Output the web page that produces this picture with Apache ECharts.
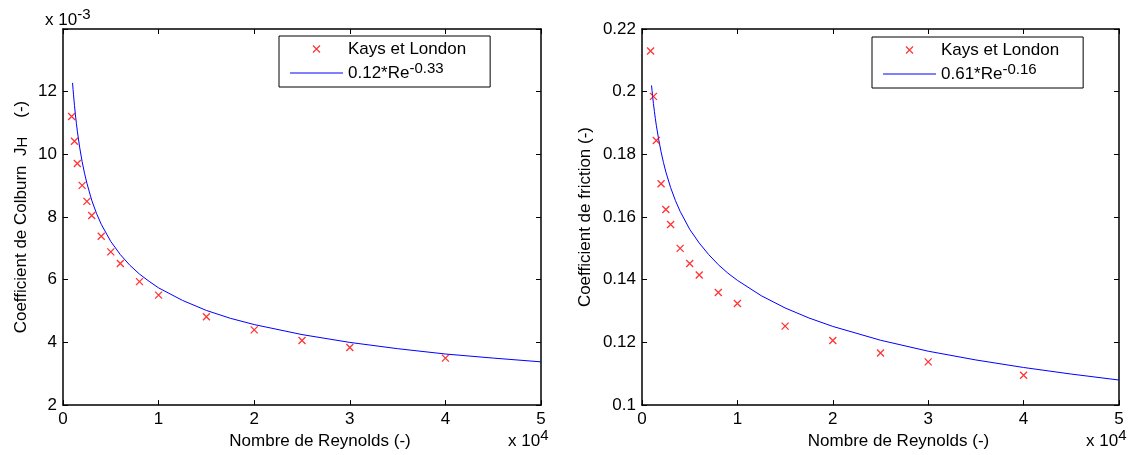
<!DOCTYPE html>
<html>
<head>
<meta charset="utf-8">
<script src="https://cdn.jsdelivr.net/npm/echarts@6/dist/echarts.min.js"></script>
<style>
html,body{margin:0;padding:0;background:#fff;}
#chart{width:1135px;height:455px;}
</style>
</head>
<body>
<div id="chart"></div>
<script>
// ---------- data ----------
// Left plot: Colburn factor (x 10^-3) vs Reynolds number
const reLeft = [900, 1200, 1500, 2000, 2500, 3000, 4000, 5000, 6000, 8000, 10000, 15000, 20000, 25000, 30000, 40000];
const jhLeft = [11.21, 10.42, 9.71, 9.01, 8.50, 8.05, 7.39, 6.89, 6.52, 5.94, 5.51, 4.82, 4.40, 4.06, 3.84, 3.50];
// Right plot: friction coefficient vs Reynolds number
const reRight = [900, 1200, 1500, 2000, 2500, 3000, 4000, 5000, 6000, 8000, 10000, 15000, 20000, 25000, 30000, 40000];
const fRight = [0.2130, 0.1985, 0.1844, 0.1706, 0.1624, 0.1576, 0.1500, 0.1452, 0.1415, 0.1359, 0.1324, 0.1252, 0.1206, 0.1166, 0.1138, 0.1095];
// Fitted curves, values
const curveRe = [1000, 1050, 1100, 1200, 1300, 1400, 1500, 1750, 2000, 2250, 2500, 3000, 3500, 4000, 5000, 6000, 7000, 8000, 9000, 10000, 12500, 15000, 17500, 20000, 25000, 30000, 35000, 40000, 45000, 50000];
const curveLeft = [12.28, 12.08, 11.90, 11.56, 11.26, 10.99, 10.74, 10.21, 9.77, 9.40, 9.08, 8.54, 8.12, 7.77, 7.22, 6.80, 6.46, 6.18, 5.95, 5.74, 5.34, 5.02, 4.77, 4.57, 4.25, 4.00, 3.80, 3.63, 3.50, 3.38];
const curveRight = [0.2020, 0.2004, 0.1989, 0.1962, 0.1937, 0.1914, 0.1893, 0.1847, 0.1808, 0.1774, 0.1744, 0.1694, 0.1653, 0.1618, 0.1561, 0.1517, 0.1480, 0.1448, 0.1421, 0.1398, 0.1349, 0.1310, 0.1278, 0.1251, 0.1207, 0.1172, 0.1144, 0.1120, 0.1099, 0.1080];
// Names and tick settings
const pointsName = 'Kays et London';
const fitLeftName = '0.12*Re^-0.33';
const fitRightName = '0.61*Re^-0.16';
const xTitle = 'Nombre de Reynolds (-)';
const yTitleLeft = 'Coefficient de Colburn  J{sub|H}    (-)';
const yTitleRight = 'Coefficient de friction (-)';
const xTicks = {min: 0, max: 50000, interval: 10000, divisor: 10000};
const yTicksLeft = {min: 2, max: 14, interval: 2, hidden: [14]};
const yTicksRight = {min: 0.1, max: 0.22, interval: 0.02};

// ---------- styling ----------
const FONT = '"Liberation Sans", Arial, Helvetica, sans-serif';
const FS = 17;
const X_SYMBOL = 'path://M0,0L10,10M0,10L10,0';
const LINE_ICON = 'path://M0,0L53,0L53,1L0,1Z';
const AXIS_W = 1.5;
const supRich = {
  sup: {fontFamily: FONT, fontSize: 15, lineHeight: 12, verticalAlign: 'top', color: '#000'},
  supHi: {fontFamily: FONT, fontSize: 15, lineHeight: 8, verticalAlign: 'top', color: '#000'},
  sub: {fontFamily: FONT, fontSize: 15, lineHeight: 12, verticalAlign: 'bottom', color: '#000'}
};
function fmtName(n) { return n.replace(/\^(\S+)/, '{sup|$1}'); }
function zip(a, b) { return a.map((v, i) => [v, b[i]]); }

const grids = [
  {left: 63, top: 29, width: 478, height: 377},
  {left: 642, top: 29, width: 477, height: 377}
];

function xAx(gi, pos) {
  return {
    type: 'value', gridIndex: gi, position: pos,
    min: xTicks.min, max: xTicks.max, interval: xTicks.interval,
    axisLine: {show: true, onZero: false, lineStyle: {color: '#000', width: AXIS_W}},
    axisTick: {show: true, inside: true, length: 5, lineStyle: {color: '#000'}},
    splitLine: {show: false},
    axisLabel: pos === 'bottom' ? {
      show: true, margin: 6, color: '#000', fontFamily: FONT, fontSize: FS,
      formatter: v => String(v / xTicks.divisor)
    } : {show: false},
    name: pos === 'bottom' ? xTitle : '',
    nameLocation: 'middle', nameGap: 21,
    nameTextStyle: {color: '#000', fontFamily: FONT, fontSize: FS, padding: [0, 0, 0, 36]}
  };
}
function yAx(gi, pos, t, title, gap) {
  return {
    type: 'value', gridIndex: gi, position: pos,
    min: t.min, max: t.max, interval: t.interval,
    axisLine: {show: true, onZero: false, lineStyle: {color: '#000', width: AXIS_W}},
    axisTick: {show: true, inside: true, length: 5, lineStyle: {color: '#000'}},
    splitLine: {show: false},
    axisLabel: pos === 'left' ? {
      show: true, margin: 6, color: '#000', fontFamily: FONT, fontSize: FS,
      formatter: v => (t.hidden && t.hidden.indexOf(v) >= 0) ? '' : String(+v.toFixed(4))
    } : {show: false},
    name: pos === 'left' ? title : '',
    nameLocation: 'middle', nameGap: gap, nameRotate: 90,
    nameTextStyle: {color: '#000', fontFamily: FONT, fontSize: FS, rich: supRich}
  };
}

function legendFor(left, top, fitName) {
  return {
    orient: 'vertical', left: left, top: top,
    padding: [1, 24, 2, 11], itemGap: 0, itemWidth: 53, itemHeight: 7,
    borderColor: '#000', borderWidth: 1, backgroundColor: '#fff',
    selectedMode: false,
    textStyle: {color: '#000', fontFamily: FONT, fontSize: FS, lineHeight: 24, rich: supRich},
    formatter: fmtName,
    data: [
      {name: pointsName, icon: X_SYMBOL, itemStyle: {color: 'rgba(0,0,0,0)', borderColor: '#ff0000', borderWidth: 1.2}},
      {name: fitName, icon: LINE_ICON, itemStyle: {color: '#0000ff', borderWidth: 0}}
    ]
  };
}

function scatterSeries(xi, yi, re, vals) {
  return {
    type: 'scatter', name: pointsName, xAxisIndex: xi, yAxisIndex: yi,
    data: zip(re, vals), symbol: X_SYMBOL, symbolSize: 7,
    itemStyle: {color: 'rgba(0,0,0,0)', borderColor: '#ff0000', borderWidth: 1.3},
    emphasis: {disabled: true}, z: 3
  };
}
function lineSeries(xi, yi, name, vals) {
  return {
    type: 'line', name: name, xAxisIndex: xi, yAxisIndex: yi,
    data: zip(curveRe, vals), symbol: 'none', showSymbol: false, smooth: false,
    lineStyle: {color: '#0000ff', width: 1}, itemStyle: {color: '#0000ff'},
    emphasis: {disabled: true}, z: 2
  };
}

const option = {
  backgroundColor: '#fff',
  animation: false,
  grid: grids,
  xAxis: [xAx(0, 'bottom'), xAx(0, 'top'), xAx(1, 'bottom'), xAx(1, 'top')],
  yAxis: [
    yAx(0, 'left', yTicksLeft, yTitleLeft, 33), yAx(0, 'right', yTicksLeft, '', 0),
    yAx(1, 'left', yTicksRight, yTitleRight, 48), yAx(1, 'right', yTicksRight, '', 0)
  ],
  legend: [legendFor(279, 36, fitLeftName), legendFor(872, 37, fitRightName)],
  series: [
    lineSeries(0, 0, fitLeftName, curveLeft),
    scatterSeries(0, 0, reLeft, jhLeft),
    lineSeries(2, 2, fitRightName, curveRight),
    scatterSeries(2, 2, reRight, fRight)
  ],
  graphic: [
    {type: 'text', left: 45, top: 7, silent: true,
     style: {text: 'x 10{supHi|-3}', fontFamily: FONT, fontSize: FS, lineHeight: 26, fill: '#000', rich: supRich}},
    {type: 'text', left: 508, top: 428, silent: true,
     style: {text: 'x 10{supHi|4}', fontFamily: FONT, fontSize: FS, lineHeight: 26, fill: '#000', rich: supRich}},
    {type: 'text', left: 1086, top: 428, silent: true,
     style: {text: 'x 10{supHi|4}', fontFamily: FONT, fontSize: FS, lineHeight: 26, fill: '#000', rich: supRich}}
  ]
};

const chart = echarts.init(document.getElementById('chart'));
chart.setOption(option);
</script>
</body>
</html>
